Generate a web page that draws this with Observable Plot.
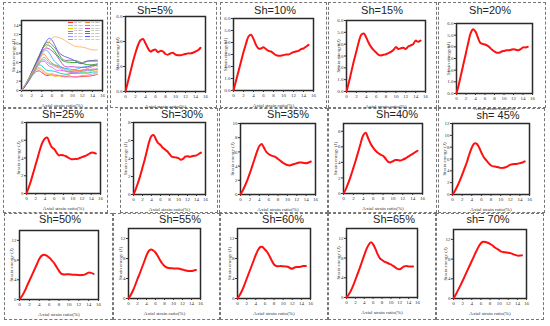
<!DOCTYPE html>
<html><head><meta charset="utf-8">
<script src="https://cdn.jsdelivr.net/npm/d3@7"></script>
<script src="https://cdn.jsdelivr.net/npm/@observablehq/plot@0.6"></script>
<style>
body{margin:0;background:#fff}
#root{position:relative;width:550px;height:326px;overflow:hidden;background:#fff}
.cell{position:absolute;border:1px dashed #777;box-sizing:border-box}
.ttl{position:absolute;font-family:"Liberation Sans",Arial,sans-serif;font-size:11px;color:#222;transform:translateX(-50%);white-space:nowrap;line-height:11px}
.pl{position:absolute}
.pl svg{overflow:visible;max-width:none!important}
.lg{position:absolute;font-family:"Liberation Serif",serif;font-size:2.6px;line-height:2.6px;color:#555;white-space:nowrap}
.lg span.sw{display:inline-block;width:5px;height:0.6px;vertical-align:middle;margin-right:1px}
</style></head><body><div id="root"></div>
<script>
// ---- data ----
const strain = [0,0.5,1,1.5,2,2.5,3,3.5,4,4.5,5,5.5,6,6.5,7,7.5,8,8.5,9,9.5,10,10.5,11,11.5,12,12.5,13,13.5,14,14.5,15];
const sh5  = [0,0.8,1.6,2.4,3.1,3.7,4.1,4.2,3.85,3.45,3.2,3.3,3.35,3.15,3.25,3.2,3.0,2.95,3.05,3.1,2.95,2.9,2.9,2.95,3.0,3.05,3.05,3.1,3.2,3.3,3.5];
const sh10 = [0,0.8,1.6,2.4,3.2,3.9,4.5,4.65,4.3,3.8,3.5,3.5,3.6,3.45,3.3,3.25,3.1,2.95,2.9,2.9,2.95,3.0,3.0,3.1,3.2,3.25,3.3,3.45,3.5,3.65,3.8];
const sh15 = [0,0.8,1.7,2.6,3.4,4.2,4.8,4.9,4.55,4.1,3.75,3.5,3.3,3.1,3.05,3.1,3.15,3.25,3.35,3.5,3.75,3.6,3.65,3.7,3.6,3.8,3.9,4.0,4.3,4.2,4.3];
const sh20 = [0,0.8,1.7,2.6,3.5,4.4,5.2,5.5,5.3,4.8,4.35,4.25,4.2,4.1,3.95,3.75,3.6,3.5,3.5,3.6,3.65,3.7,3.7,3.75,3.8,3.75,3.7,3.8,3.95,3.95,4.0];
const sh25 = [0,0.7,1.5,2.4,3.3,4.2,5.1,5.8,6.2,6.3,5.7,5.2,5.0,4.6,4.3,4.35,4.3,4.2,4.05,3.9,3.85,3.9,3.9,4.0,4.1,4.2,4.3,4.45,4.6,4.6,4.5];
const sh30 = [0,0.6,1.3,2.1,3.0,3.9,4.9,5.9,6.5,6.6,6.1,5.7,5.5,5.2,5.0,4.8,4.5,4.2,4.15,4.1,4.05,3.85,3.95,4.2,4.25,4.2,4.25,4.3,4.35,4.5,4.65];
const sh35 = [0,0.6,1.3,2.1,3.0,4.0,5.0,6.0,6.8,7.1,6.6,6.0,5.7,5.5,5.4,5.25,5.0,4.75,4.5,4.3,4.15,4.1,4.2,4.3,4.4,4.5,4.5,4.45,4.4,4.5,4.65];
const sh40 = [0,0.6,1.4,2.3,3.3,4.3,5.4,6.5,7.5,7.8,7.1,6.4,5.9,5.5,5.2,5.0,4.85,4.5,4.1,4.0,4.15,4.3,4.3,4.25,4.35,4.5,4.7,4.9,5.1,5.3,5.5];
const sh45 = [0,0.6,1.4,2.3,3.3,4.4,5.5,6.8,7.9,8.6,8.6,8.0,7.1,6.3,5.8,5.3,4.9,4.75,4.7,4.6,4.5,4.5,4.6,4.8,5.0,5.1,5.15,5.2,5.3,5.4,5.6];
const sh50 = [0,0.7,1.6,2.7,3.8,4.9,6.0,7.1,8.2,8.9,9.1,8.9,8.5,8.0,7.4,6.6,5.8,5.2,5.05,5.1,5.1,5.05,5.0,5.0,4.95,4.95,5.0,5.2,5.45,5.4,5.2];
const sh55 = [0,0.7,1.6,2.7,3.9,5.0,6.2,7.4,8.6,9.5,9.8,9.6,9.2,8.5,7.7,7.0,6.5,6.2,6.1,6.05,6.0,6.0,6.0,5.9,5.8,5.65,5.55,5.5,5.5,5.6,5.7];
const sh60 = [0,0.7,1.6,2.7,3.9,5.1,6.3,7.5,8.7,9.7,10.3,10.3,9.8,9.3,8.5,7.6,6.8,6.5,6.45,6.5,6.45,6.4,6.35,6.1,5.95,6.2,6.3,6.3,6.4,6.5,6.5];
const sh65 = [0,0.6,1.4,2.4,3.6,4.8,6.0,7.3,8.6,9.8,10.7,11.2,10.8,9.9,8.8,8.0,7.6,7.3,7.1,6.9,6.7,6.4,6.1,5.8,5.75,6.0,6.3,6.4,6.3,6.3,6.3];
const sh70 = [0,0.8,1.7,2.6,3.6,4.6,5.6,6.6,7.6,8.6,9.6,10.5,11.2,11.5,11.45,11.3,11.1,10.8,10.4,10.1,9.8,9.5,9.4,9.35,9.3,9.2,9.0,8.85,8.7,8.7,8.75];

const seriesNames = ["Sh=5%","Sh=10%","Sh=15%","Sh=20%","Sh=25%","Sh=30%","Sh=35%","Sh=40%","Sh=45%","Sh=50%","Sh=55%","Sh=60%","Sh=65%","Sh=70%"];
const panelTitles = ["Sh=5%","Sh=10%","Sh=15%","Sh=20%","Sh=25%","Sh=30%","Sh=35%","Sh=40%","sh= 45%","Sh=50%","Sh=55%","Sh=60%","Sh=65%","sh= 70%"];
const seriesValues = [sh5,sh10,sh15,sh20,sh25,sh30,sh35,sh40,sh45,sh50,sh55,sh60,sh65,sh70];
const yMax = [6,6,6,6,8,8,10,9,12,14,14,14,14,14];
const yTickStep = [2,1,1,1,2,2,2,2,2,4,4,4,4,4];
const xDomain = [0,16];
const xTicks = [0,2,4,6,8,10,12,14,16];
const overviewYMax = 15;
const overviewYTicks = [0,2,4,6,8,10,12,14];

// ---- layout / style (not data) ----
const overviewColors = ["#ff3030","#ff80c0","#e6d000","#00c8c8","#ff50ff","#9c9cff","#60d060","#ff8040","#40a8ff","#c040c0","#20a020","#707070","#5a5ae6","#ffb070"];
// frame left, top, width, height, title center x, title center y
const frames = [
  [125,16,80,75,155,11],[233,18,80,72,275,11],[346,20,79,71,382,11],[456,23,76,70,490,11],
  [26,122,74,71,63,115],[133,122,72,72,182,115],[240,123,75,71,288,115],[343,123,79,70,397,115],[452,123,77,71,498,116],
  [19,230,79,69,60,220],[128,228,72,70,180,220],[237,228,73,70,283,220],[346,228,71,69,394,220],[453,229,73,69,488,220]
];
const overviewFrame = [21,20,81,70];
const cells = [
  [3,2,105,106],[110,2,107,106],[220,2,107,106],[328,2,109,106],[438,2,108,106],
  [3,108,105,105],[120,108,98,105],[219,108,109,105],[328,108,109,105],[438,108,107,105],
  [4,213,109,107],[113,213,107,107],[220,213,108,107],[328,213,108,107],[436,213,108,107]
];

const root = document.getElementById("root");
cells.forEach(([x,y,w,h]) => {
  const d = document.createElement("div");
  d.className = "cell";
  Object.assign(d.style, {left:x+"px", top:y+"px", width:w+"px", height:h+"px"});
  root.appendChild(d);
});

const ml = 10, mr = 2, mt = 2, mb = 18;
function place(svg, fx, fy) {
  const wrap = document.createElement("div");
  wrap.className = "pl";
  wrap.style.left = (fx - ml) + "px";
  wrap.style.top = (fy - mt) + "px";
  wrap.appendChild(svg);
  root.appendChild(wrap);
}
function axes(yticks) {
  return [
    Plot.frame({stroke: "#2a2a2a", strokeWidth: 1.5}),
    Plot.axisX({ticks: xTicks, tickSize: 2, tickPadding: 1, stroke: "#333", label: "Axial strain ratio(%)", labelAnchor: "center", labelArrow: "none", labelOffset: 16}),
    Plot.axisY({ticks: yticks, tickSize: 2, tickPadding: 1, stroke: "#333", label: "Strain energy (J)", labelAnchor: "center", labelArrow: "none", labelOffset: 10})
  ];
}
const baseStyle = {fontFamily: "'Liberation Serif', serif", fontSize: "5px", color: "#333", background: "transparent", overflow: "visible"};

// overview panel
{
  const [fx, fy, w, h] = overviewFrame;
  const rows = [];
  seriesValues.forEach((vals, k) => vals.forEach((v, j) => rows.push({x: strain[j], y: v, s: seriesNames[k]})));
  const svg = Plot.plot({
    width: w + ml + mr, height: h + mt + mb,
    marginLeft: ml, marginRight: mr, marginTop: mt, marginBottom: mb,
    style: baseStyle,
    x: {domain: xDomain},
    y: {domain: [0, overviewYMax]},
    color: {domain: seriesNames, range: overviewColors},
    marks: [
      ...axes(overviewYTicks),
      Plot.line(rows, {x: "x", y: "y", z: "s", stroke: "s", strokeWidth: 0.9, curve: "catmull-rom"})
    ]
  });
  place(svg, fx, fy);
  seriesNames.forEach((name, k) => {
    const col = k < 7 ? 0 : 1, row = k % 7;
    const d = document.createElement("div");
    d.className = "lg";
    d.style.left = (68 + col * 17) + "px";
    d.style.top = (22 + row * 2.8) + "px";
    d.innerHTML = `<span class="sw" style="background:${overviewColors[k]}"></span>${name}`;
    root.appendChild(d);
  });
}

// small multiples
seriesValues.forEach((vals, k) => {
  const [fx, fy, w, h, tx, ty] = frames[k];
  const data = strain.map((x, j) => ({x, y: vals[j]}));
  const yt = d3.range(0, yMax[k] + 1e-9, yTickStep[k]);
  const svg = Plot.plot({
    width: w + ml + mr, height: h + mt + mb,
    marginLeft: ml, marginRight: mr, marginTop: mt, marginBottom: mb,
    style: baseStyle,
    x: {domain: xDomain},
    y: {domain: [0, yMax[k]]},
    marks: [
      ...axes(yt),
      Plot.line(data, {x: "x", y: "y", stroke: "#ff1010", strokeWidth: 2, curve: "catmull-rom"})
    ]
  });
  place(svg, fx, fy);
  const t = document.createElement("div");
  t.className = "ttl";
  t.textContent = panelTitles[k];
  t.style.left = tx + "px";
  t.style.top = (ty - 6) + "px";
  root.appendChild(t);
});
</script></body></html>
